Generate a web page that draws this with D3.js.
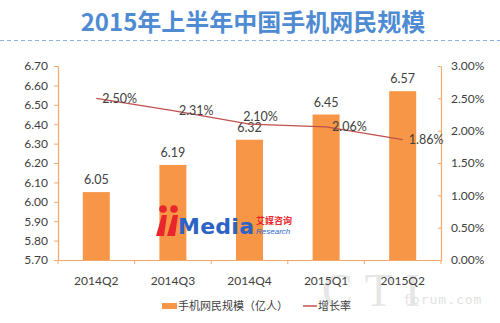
<!DOCTYPE html>
<html>
<head>
<meta charset="utf-8">
<script src="https://cdn.jsdelivr.net/npm/d3@7"></script>
<style>
  html, body { margin: 0; padding: 0; background: #fff; }
  svg { display: block; }
  text { font-family: Lato, "Noto Sans CJK SC", sans-serif; }
</style>
</head>
<body>
<svg id="chart" width="500" height="323"></svg>
<script>
// Quarterly mobile internet users (100 million) and growth rate (%)
const quarters = ["2014Q2", "2014Q3", "2014Q4", "2015Q1", "2015Q2"];
const users = [6.05, 6.19, 6.32, 6.45, 6.57];
const growth = [2.50, 2.31, 2.10, 2.06, 1.86];
const growthLabelSide = ["right", "right", "above", "right", "right"];
const leftTicks = [5.7, 5.8, 5.9, 6.0, 6.1, 6.2, 6.3, 6.4, 6.5, 6.6, 6.7];
const rightTicks = [0, 0.5, 1.0, 1.5, 2.0, 2.5, 3.0];

const title = "2015年上半年中国手机网民规模";
const legendBar = "手机网民规模（亿人）";
const legendLine = "增长率";

const barColor = "#f79646";
const lineColor = "#c0504d";
const axisColor = "#f5a86a";
const textColor = "#404040";

const svg = d3.select("#chart");
const plot = { left: 58, right: 441, top: 66, bottom: 260 };

// Title and dashed separator
svg.append("text")
  .attr("x", 253).attr("y", 31)
  .attr("text-anchor", "middle")
  .style("font-family", "'Noto Sans CJK SC', sans-serif")
  .style("font-weight", "bold")
  .style("font-size", "24px")
  .style("fill", "#4f8bd2")
  .text(title);

svg.append("line")
  .attr("x1", 0).attr("x2", 500)
  .attr("y1", 40.5).attr("y2", 40.5)
  .attr("stroke", "#8ab4e0")
  .attr("stroke-width", 1)
  .attr("stroke-dasharray", "4,3");

const x = d3.scaleBand().domain(quarters).range([plot.left, plot.right]).paddingInner(0).paddingOuter(0);
const yL = d3.scaleLinear().domain([5.7, 6.7]).range([plot.bottom, plot.top]);
const yR = d3.scaleLinear().domain([0, 3]).range([plot.bottom, plot.top]);
const barW = 27;

// Watermark
const wm = svg.append("g").attr("class", "watermark");
wm.append("text")
  .attr("x", 322).attr("y", 306)
  .style("font-family", "'Liberation Serif', serif")
  .style("font-size", "46px")
  .style("fill", "#e6e6e6")
  .style("letter-spacing", "12px")
  .text("CTI");
wm.append("text")
  .attr("x", 403).attr("y", 304)
  .style("font-family", "'DejaVu Sans Mono', monospace")
  .style("font-size", "13px")
  .style("fill", "#e2e2e2")
  .style("letter-spacing", "1px")
  .text("forum.com");

// Bars
svg.append("g").selectAll("rect")
  .data(users)
  .join("rect")
  .attr("x", (d, i) => x(quarters[i]) + x.bandwidth() / 2 - barW / 2)
  .attr("width", barW)
  .attr("y", d => yL(d))
  .attr("height", d => yL(5.7) - yL(d))
  .attr("fill", barColor);

// Bar value labels
svg.append("g").selectAll("text")
  .data(users)
  .join("text")
  .attr("x", (d, i) => x(quarters[i]) + x.bandwidth() / 2)
  .attr("y", d => yL(d) - 8)
  .attr("text-anchor", "middle")
  .style("font-size", "12.5px")
  .style("fill", textColor)
  .text(d => d.toFixed(2));

// iMedia logo
const logo = svg.append("g");
logo.append("circle").attr("cx", 163).attr("cy", 209).attr("r", 3.8).attr("fill", "#e8262b");
logo.append("circle").attr("cx", 174).attr("cy", 209).attr("r", 3.8).attr("fill", "#e8262b");
logo.append("path").attr("d", "M156,236 L162,215 L167,215 L164,236 Z").attr("fill", "#e8262b");
logo.append("path").attr("d", "M167,236 L173,215 L178,215 L175,236 Z").attr("fill", "#e8262b");
logo.append("text")
  .attr("x", 178).attr("y", 234)
  .attr("textLength", 76)
  .style("font-family", "'DejaVu Sans', sans-serif")
  .style("font-weight", "bold")
  .style("font-size", "22px")
  .style("fill", "#2c63c4")
  .text("Media");
logo.append("text")
  .attr("x", 256).attr("y", 224)
  .style("font-family", "'Noto Sans CJK SC', sans-serif")
  .style("font-weight", "bold")
  .style("font-size", "9px")
  .style("fill", "#e8262b")
  .text("艾媒咨询");
logo.append("text")
  .attr("x", 256).attr("y", 234)
  .style("font-family", "'Liberation Sans', sans-serif")
  .style("font-style", "italic")
  .style("font-size", "8px")
  .style("fill", "#2c63c4")
  .text("Research");

// Axes
const leftAxis = svg.append("g")
  .attr("transform", `translate(${plot.left},0)`)
  .call(d3.axisLeft(yL).tickValues(leftTicks).tickFormat(d3.format(".2f")).tickSizeInner(4).tickSizeOuter(0).tickPadding(6));
const rightAxis = svg.append("g")
  .attr("transform", `translate(${plot.right},0)`)
  .call(d3.axisRight(yR).tickValues(rightTicks).tickFormat(d => d.toFixed(2) + "%").tickSizeInner(0).tickSizeOuter(0).tickPadding(10));
rightAxis.selectAll(".tick").append("line")
  .attr("x1", -3).attr("x2", 0)
  .attr("stroke", axisColor);

const bottomAxis = svg.append("g")
  .attr("transform", `translate(0,${plot.bottom})`)
  .call(d3.axisBottom(x).tickSize(0).tickPadding(16));
bottomAxis.selectAll(".tick").append("line")
  .attr("x1", -x.bandwidth() / 2).attr("x2", -x.bandwidth() / 2)
  .attr("y1", 0).attr("y2", 4)
  .attr("stroke", axisColor);
bottomAxis.append("line")
  .attr("x1", plot.right).attr("x2", plot.right)
  .attr("y1", 0).attr("y2", 4)
  .attr("stroke", axisColor);

[leftAxis, rightAxis, bottomAxis].forEach(g => {
  g.select(".domain").attr("stroke", axisColor).attr("stroke-width", 1.2);
  g.selectAll(".tick line").attr("stroke", axisColor);
  g.selectAll(".tick text")
    .style("font-family", "Lato, sans-serif")
    .style("font-size", "12px")
    .style("fill", textColor);
});

// Growth rate line
const line = d3.line()
  .x((d, i) => x(quarters[i]) + x.bandwidth() / 2)
  .y(d => yR(d));
svg.append("path")
  .datum(growth)
  .attr("d", line)
  .attr("fill", "none")
  .attr("stroke", lineColor)
  .attr("stroke-width", 1.3);

svg.append("g").selectAll("text")
  .data(growth)
  .join("text")
  .attr("x", (d, i) => x(quarters[i]) + x.bandwidth() / 2 + (growthLabelSide[i] === "above" ? 11 : 6))
  .attr("y", (d, i) => yR(d) + (growthLabelSide[i] === "above" ? -3 : 4.5))
  .attr("text-anchor", (d, i) => growthLabelSide[i] === "above" ? "middle" : "start")
  .style("font-size", "12.5px")
  .style("fill", textColor)
  .text(d => d.toFixed(2) + "%");

// Legend
const legend = svg.append("g");
legend.append("rect")
  .attr("x", 162).attr("y", 303).attr("width", 15).attr("height", 6)
  .attr("fill", barColor);
legend.append("text")
  .attr("x", 178).attr("y", 310)
  .style("font-family", "'Noto Sans CJK SC', sans-serif")
  .style("font-size", "11px")
  .style("fill", textColor)
  .text(legendBar);
legend.append("line")
  .attr("x1", 303).attr("x2", 317).attr("y1", 306).attr("y2", 306)
  .attr("stroke", lineColor).attr("stroke-width", 1.5);
legend.append("text")
  .attr("x", 318).attr("y", 310)
  .style("font-family", "'Noto Sans CJK SC', sans-serif")
  .style("font-size", "11px")
  .style("fill", textColor)
  .text(legendLine);
</script>
</body>
</html>
